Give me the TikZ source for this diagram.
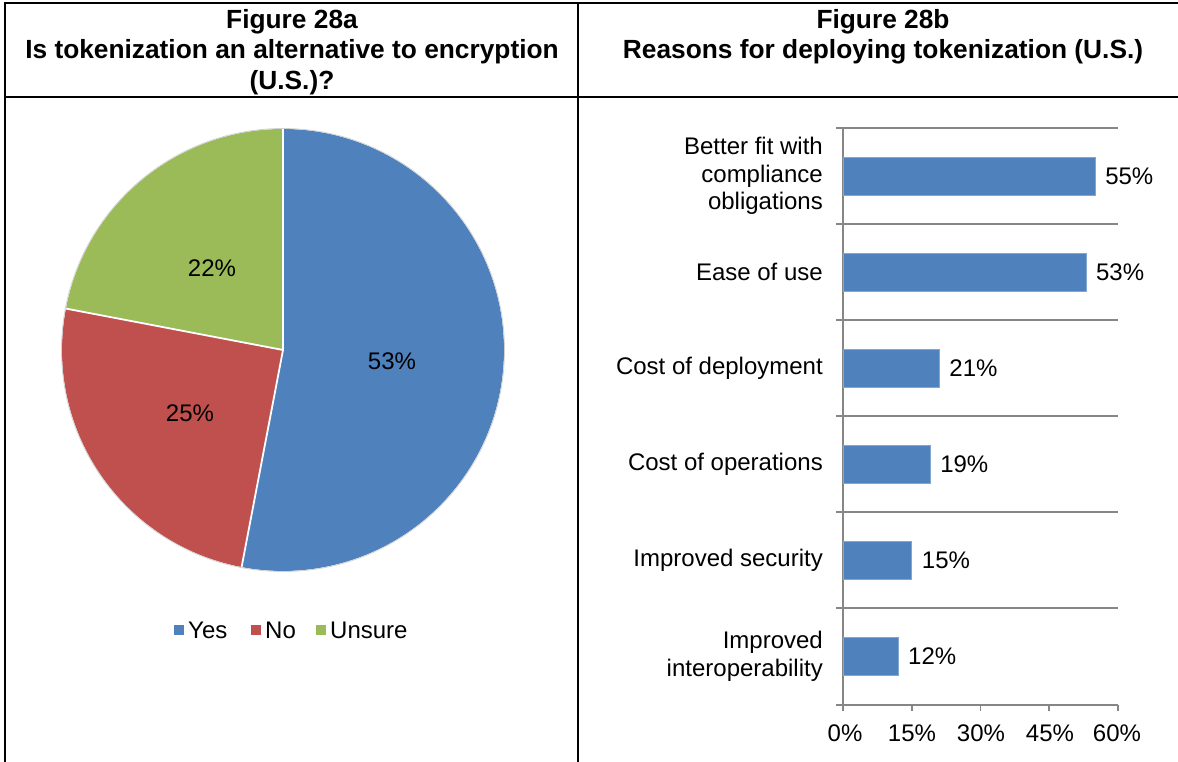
\documentclass[tikz,border=0pt]{standalone}
\usepackage{fontspec}
\setmainfont{Liberation Sans}
\definecolor{cblue}{HTML}{4F81BD}
\definecolor{cred}{HTML}{C0504D}
\definecolor{cgreen}{HTML}{9BBB59}
\definecolor{cgrid}{HTML}{868686}
\begin{document}
\begin{tikzpicture}[x=1pt,y=1pt,
  frame/.style={line width=2.4pt,black},
  hdr/.style={font=\fontsize{26.3}{30.5}\selectfont\bfseries,align=center,inner sep=0pt},
  txt/.style={font=\fontsize{24}{27.8}\selectfont,inner sep=0pt},
  cat/.style={txt,anchor=east,align=right},
  val/.style={txt,anchor=west},
  tick/.style={txt,anchor=center},
  bar/.style={fill=cblue,draw=cblue!70!white,line width=0.6pt},
  grid/.style={draw=cgrid,line width=1.6pt},
  sep/.style={draw=white,line width=1.8pt},
  leg/.style={minimum size=9.5pt,inner sep=0pt}]
\useasboundingbox (0,0) rectangle (1178,762);
\fill[white] (0,0) rectangle (1178,762);
% table frame
\draw[frame] (5,0) -- (5,759) -- (1180,759);
\draw[frame] (5,665) -- (1180,665);
\draw[frame] (578,0) -- (578,759);
% headers
\node[hdr] (h1) at (292,710) {Figure 28a\\Is tokenization an alternative to encryption\\(U.S.)?};
\node[hdr] (h2) at (883,725) {Figure 28b\\Reasons for deploying tokenization (U.S.)};
% pie
\coordinate (pc) at (283,412);
\fill[cblue] (pc) -- ++(90:221) arc[start angle=90,end angle=-100.8,radius=221] -- cycle;
\fill[cred] (pc) -- ++(-100.8:221) arc[start angle=-100.8,end angle=-190.8,radius=221] -- cycle;
\fill[cgreen] (pc) -- ++(169.2:221) arc[start angle=169.2,end angle=90,radius=221] -- cycle;
\draw[sep] (pc) -- ++(90:221);
\draw[sep] (pc) -- ++(-100.8:221);
\draw[sep] (pc) -- ++(169.2:221);
\draw[draw=gray!35,line width=0.8pt] (pc) circle[radius=221.5];
\node[txt] (p1) at (392,401) {53\%};
\node[txt] (p2) at (190,349) {25\%};
\node[txt] (p3) at (212,494) {22\%};
% legend
\node[leg,fill=cblue] (l1) at (179,132) {};
\node[txt,anchor=west] (t1) at (188,132) {Yes};
\node[leg,fill=cred] (l2) at (256,132) {};
\node[txt,anchor=west] (t2) at (265,132) {No};
\node[leg,fill=cgreen] (l3) at (321,132) {};
\node[txt,anchor=west] (t3) at (330,132) {Unsure};
% bar chart grid
\foreach \yy in {634,538,442,346,250,154,57} \draw[grid] (836,\yy) -- (1118,\yy);
\draw[grid] (843,57) -- (843,634);
\foreach \xx in {843,911.75,980.5,1049.25,1118} \draw[grid] (\xx,57) -- (\xx,51);
% bars
\foreach \v/\yy/\n in {55/586/b1,53/490/b2,21/394/b3,19/298/b4,15/202/b5,12/106/b6}{
  \draw[bar] (843,\yy-19) rectangle ({843+\v*275/60},\yy+19);
  \node[val] (\n) at ({843+\v*275/60+10},\yy) {\v\%};
}
% category labels
\node[cat] (c1) at (823,586) {Better fit with\\compliance\\obligations};
\node[cat] (c2) at (823,490) {Ease of use};
\node[cat] (c3) at (823,394) {Cost of deployment};
\node[cat] (c4) at (823,298) {Cost of operations};
\node[cat] (c5) at (823,202) {Improved security};
\node[cat] (c6) at (823,106) {Improved\\interoperability};
% tick labels
\node[tick] (x0) at (845,29) {0\%};
\node[tick] (x1) at (912,29) {15\%};
\node[tick] (x2) at (981,29) {30\%};
\node[tick] (x3) at (1050,29) {45\%};
\node[tick] (x4) at (1117,29) {60\%};
\end{tikzpicture}
\end{document}
